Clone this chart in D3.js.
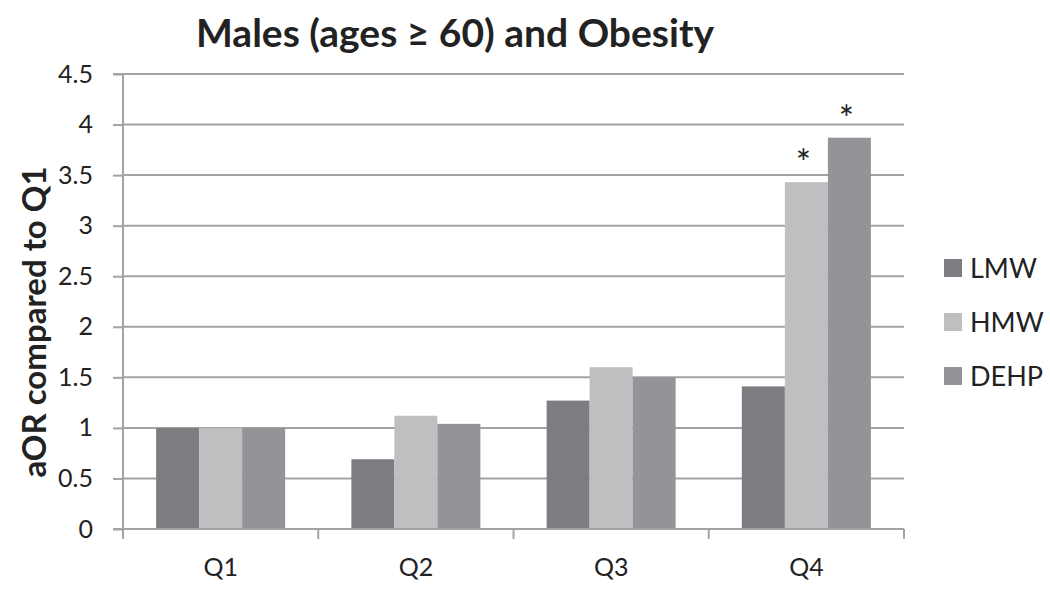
<!DOCTYPE html>
<html><head><meta charset="utf-8">
<script src="https://cdn.jsdelivr.net/npm/d3@7"></script>
<style>body{margin:0;background:#fff;} svg{display:block;font-family:Lato,"Open Sans",sans-serif;}</style>
</head><body><svg id="c" width="1050" height="595"></svg>
<script>
const categories = ["Q1","Q2","Q3","Q4"];
const seriesNames = ["LMW","HMW","DEHP"];
const LMW = [1.0, 0.69, 1.27, 1.41];
const HMW = [1.0, 1.12, 1.60, 3.43];
const DEHP = [1.0, 1.04, 1.50, 3.87];
const significant = {HMW:[false,false,false,true], DEHP:[false,false,false,true]};
const yTicks = [0,0.5,1,1.5,2,2.5,3,3.5,4,4.5];
const tickLabels = ["0","0.5","1","1.5","2","2.5","3","3.5","4","4.5"];
const colors = {LMW:"#7c7d81", HMW:"#bebfc1", DEHP:"#939498"};
const seriesValues = {LMW, HMW, DEHP};
const FONT = "Lato,'Open Sans',sans-serif";

const svg = d3.select("#c");
const x0 = 123, x1 = 904, yBase = 529, yTop = 74;
const x = d3.scaleBand().domain(categories).range([x0,x1]).paddingInner(0).paddingOuter(0);
const y = d3.scaleLinear().domain([0,4.5]).range([yBase,yTop]);
const inner = d3.scaleBand().domain(seriesNames).range([0, x.bandwidth()]).paddingOuter(0.77).paddingInner(0);

// gridlines
svg.append("g").selectAll("line").data(yTicks.filter(d=>d>0)).join("line")
  .attr("x1",x0).attr("x2",x1).attr("y1",d=>y(d)).attr("y2",d=>y(d))
  .attr("stroke","#a3a3a3").attr("stroke-width",2);

// bars
const rows = [];
categories.forEach((c,i)=>seriesNames.forEach(s=>rows.push({c,s,v:seriesValues[s][i],sig:(significant[s]||[])[i]})));
svg.append("g").selectAll("rect").data(rows).join("rect")
  .attr("x",d=>x(d.c)+inner(d.s)).attr("width",inner.bandwidth())
  .attr("y",d=>y(d.v)).attr("height",d=>yBase-y(d.v))
  .attr("fill",d=>colors[d.s]);

// asterisks
svg.append("g").selectAll("text").data(rows.filter(d=>d.sig)).join("text")
  .attr("x",d=>x(d.c)+inner(d.s)+inner.bandwidth()/2 - 3)
  .attr("y",d=>y(d.v)-6)
  .attr("text-anchor","middle").attr("font-size",36).attr("fill","#222")
  .text("*");

// y axis
const yAxis = d3.axisLeft(y).tickValues(yTicks).tickFormat((d,i)=>tickLabels[i]).tickSize(10).tickPadding(20);
const gy = svg.append("g").attr("transform",`translate(${x0},0)`).call(yAxis);
gy.attr("font-size",null).attr("font-family",null);
gy.select(".domain").attr("stroke","#a3a3a3").attr("stroke-width",2).attr("d",`M-10,${yTop}H0V${yBase}H-10`);
gy.selectAll(".tick line").attr("stroke","#a3a3a3").attr("stroke-width",2);
gy.selectAll(".tick text").style("font-size","25px").attr("fill","#222").style("font-family",FONT);

// x axis
const xAxis = d3.axisBottom(x).tickSize(0).tickPadding(29);
const gx = svg.append("g").attr("transform",`translate(0,${yBase})`).call(xAxis);
gx.attr("font-size",null).attr("font-family",null);
gx.select(".domain").attr("stroke","#a3a3a3").attr("stroke-width",2).attr("d",`M${x0},0H${x1}`);
gx.selectAll(".tick text").style("font-size","25px").attr("fill","#222").style("font-family",FONT);
svg.append("g").selectAll("line").data(categories.concat(["end"])).join("line")
  .attr("x1",(d,i)=>x0+i*x.bandwidth()).attr("x2",(d,i)=>x0+i*x.bandwidth())
  .attr("y1",yBase).attr("y2",yBase+10).attr("stroke","#a3a3a3").attr("stroke-width",2);

// title
svg.append("text").attr("x",455).attr("y",47).attr("text-anchor","middle")
  .style("font-size","39px").attr("font-weight","bold").attr("fill","#222")
  .text("Males (ages ≥ 60) and Obesity");

// y label
svg.append("text").attr("transform","translate(46,322) rotate(-90)").attr("text-anchor","middle")
  .style("font-size","33px").attr("font-weight","bold").attr("fill","#222")
  .text("aOR compared to Q1");

// legend
const lg = svg.append("g").selectAll("g").data(seriesNames).join("g")
  .attr("transform",(d,i)=>`translate(944,${268+i*54})`);
lg.append("rect").attr("x",0).attr("y",-9).attr("width",18).attr("height",18).attr("fill",d=>colors[d]);
lg.append("text").attr("x",26).attr("y",10).style("font-size","27px").attr("fill","#222").text(d=>d);
</script></body></html>
